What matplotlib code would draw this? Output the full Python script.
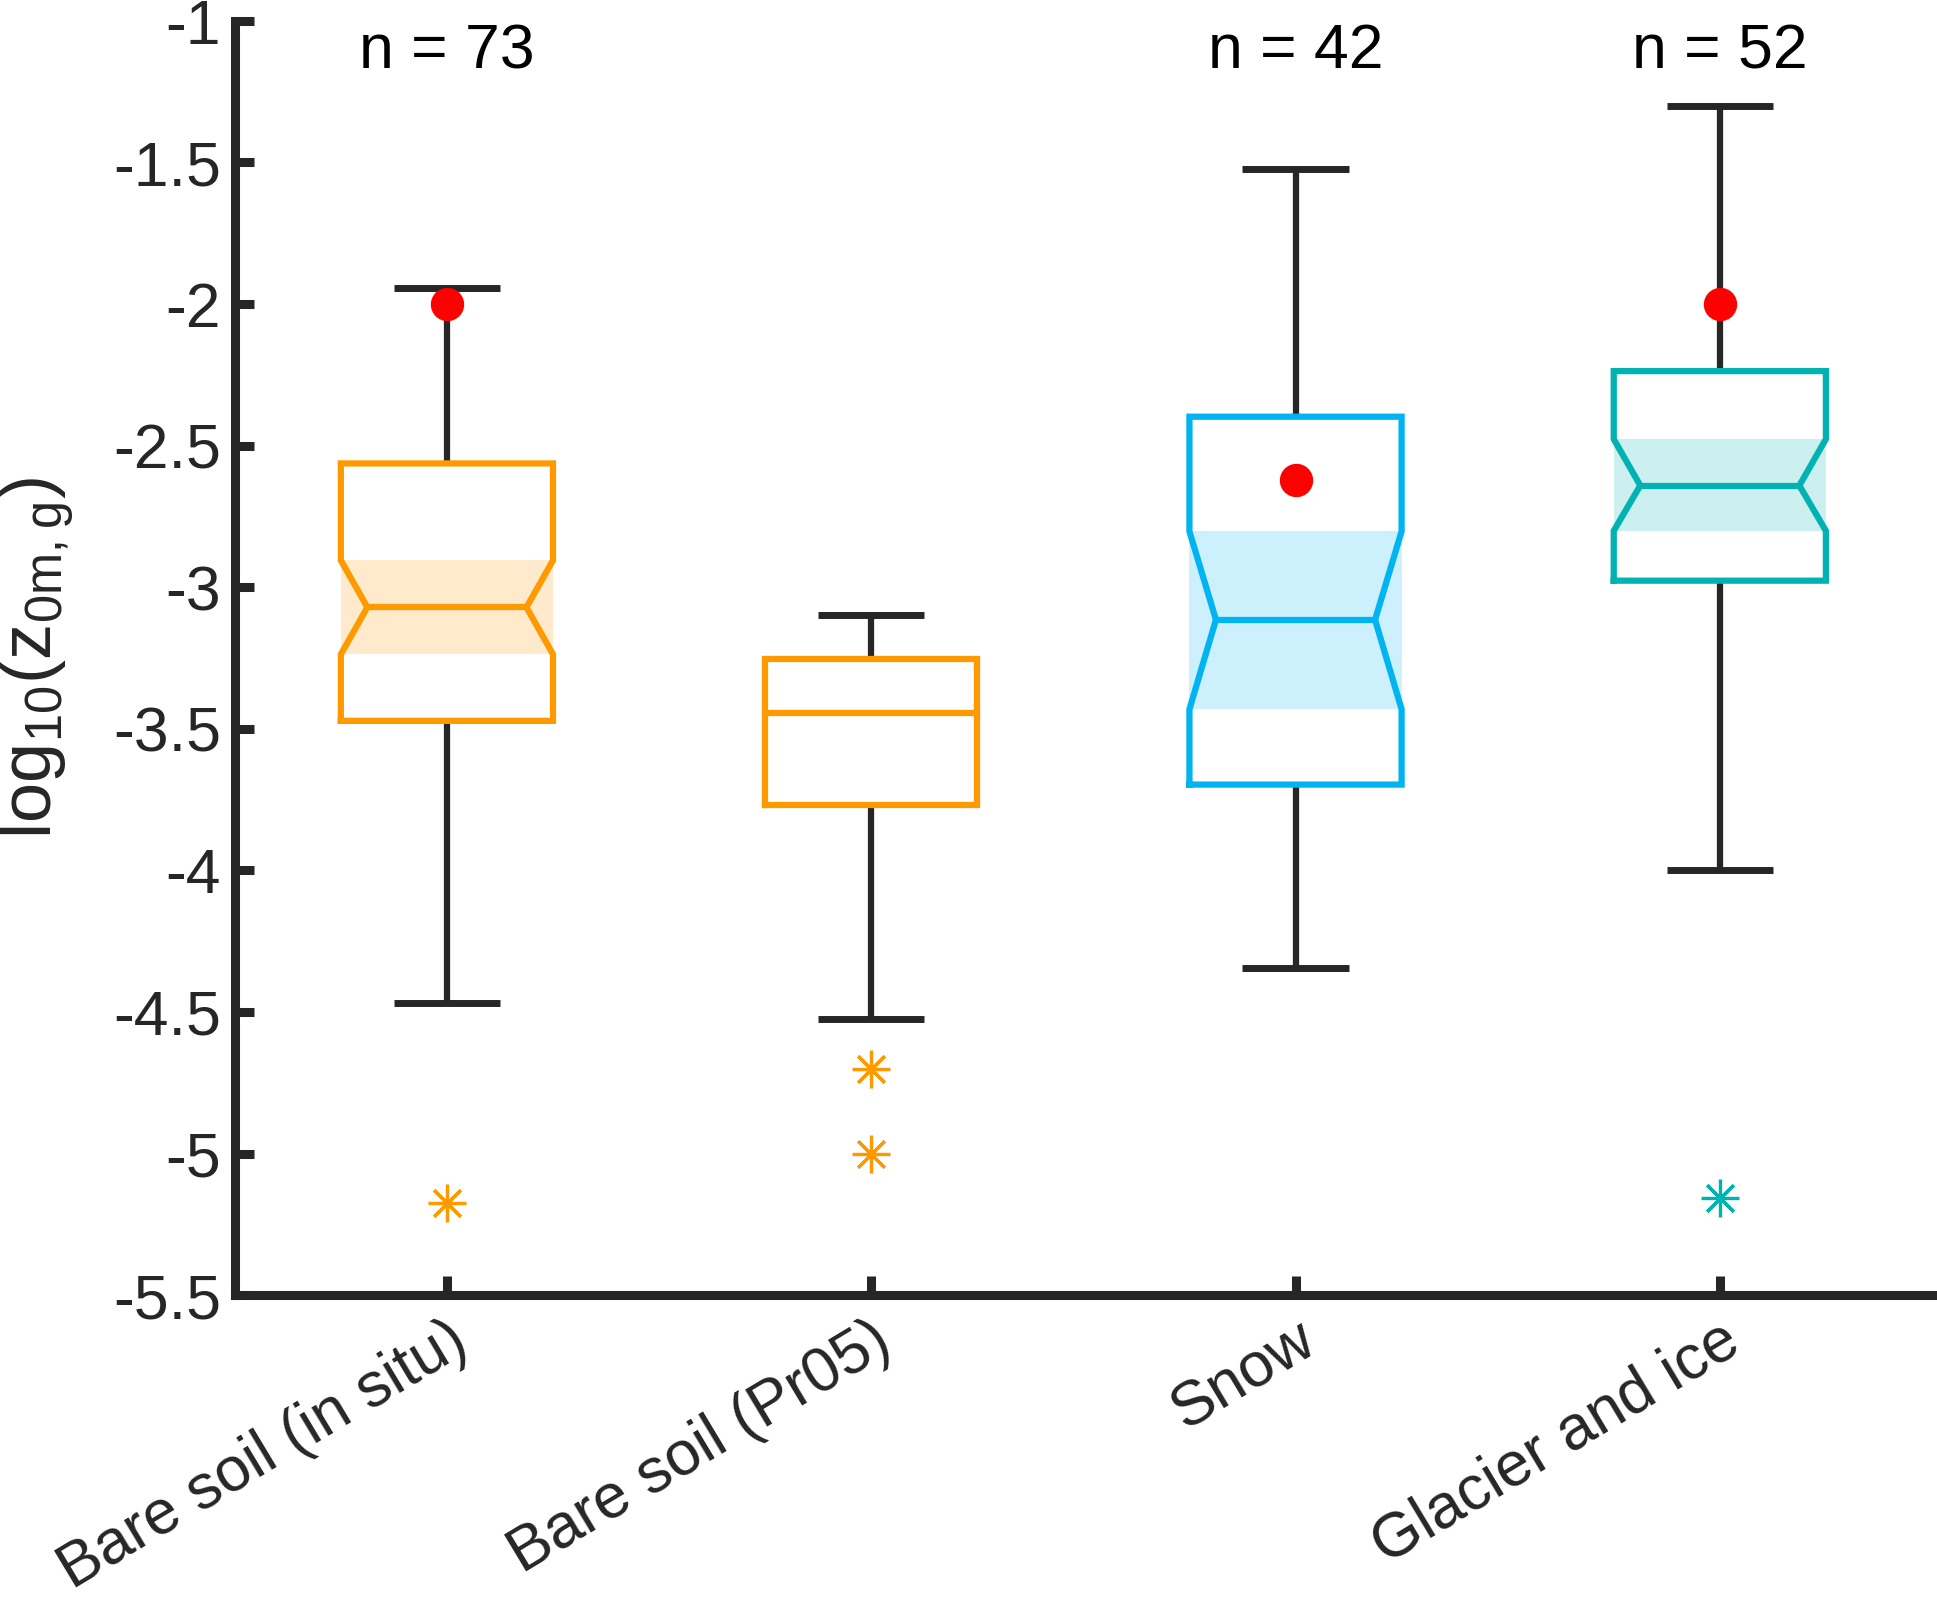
import matplotlib
matplotlib.use('Agg')
import matplotlib.pyplot as plt
import numpy as np

plt.rcParams['font.family'] = ['Liberation Sans', 'DejaVu Sans']
plt.rcParams['mathtext.fontset'] = 'custom'
plt.rcParams['mathtext.rm'] = 'Liberation Sans'

# values (log10 of z0m,g)
categories = ['Bare soil (in situ)', 'Bare soil (Pr05)', 'Snow', 'Glacier and ice']
whisker_hi = [-1.943, -3.098, -1.523, -1.302]
q3 = [-2.563, -3.252, -2.398, -2.237]
median = [-3.071, -3.445, -3.115, -2.641]
q1 = [-3.472, -3.768, -3.697, -2.977]
whisker_lo = [-4.469, -4.524, -4.346, -3.998]
notch_hi = [-2.905, None, -2.803, -2.477]
notch_lo = [-3.237, None, -3.431, -2.801]
outliers = [[-5.175], [-4.700, -5.0], [], [-5.158]]
ref_value = [-2.0, None, -2.62, -2.0]
n_text = ['n = 73', '', 'n = 42', 'n = 52']

edge_colors = ['#FF9900', '#FF9900', '#00B4F2', '#00B2B2']
dark = '#262626'

fig = plt.figure(figsize=(19.37, 15.99), dpi=100)
ax = fig.add_axes([0.1212, 0.19, 0.8762, 0.797])

half_w = 0.25
notch_w = 0.1875
cap_w = 0.125
box_lw = 4.5

for i, cat in enumerate(categories):
    x = i + 1
    c = edge_colors[i]
    # whiskers
    ax.plot([x, x], [q3[i], whisker_hi[i]], color=dark, lw=4.5, zorder=2, solid_capstyle='butt')
    ax.plot([x, x], [q1[i], whisker_lo[i]], color=dark, lw=4.5, zorder=2, solid_capstyle='butt')
    ax.plot([x - cap_w, x + cap_w], [whisker_hi[i]] * 2, color=dark, lw=5, zorder=2, solid_capstyle='butt')
    ax.plot([x - cap_w, x + cap_w], [whisker_lo[i]] * 2, color=dark, lw=5, zorder=2, solid_capstyle='butt')

    if notch_hi[i] is not None:
        ax.fill_between([x - half_w, x + half_w], notch_lo[i], notch_hi[i],
                        color=c, alpha=0.2, lw=0, zorder=1)
        bx = [x - half_w, x - half_w, x - notch_w, x - half_w, x - half_w,
              x + half_w, x + half_w, x + notch_w, x + half_w, x + half_w, x - half_w]
        by = [q1[i], notch_lo[i], median[i], notch_hi[i], q3[i],
              q3[i], notch_hi[i], median[i], notch_lo[i], q1[i], q1[i]]
        ax.plot(bx, by, color=c, lw=box_lw, zorder=3, solid_joinstyle='miter')
        ax.plot([x - notch_w, x + notch_w], [median[i]] * 2, color=c, lw=box_lw, zorder=3)
    else:
        bx = [x - half_w, x - half_w, x + half_w, x + half_w, x - half_w]
        by = [q1[i], q3[i], q3[i], q1[i], q1[i]]
        ax.plot(bx, by, color=c, lw=box_lw, zorder=3, solid_joinstyle='miter')
        ax.plot([x - half_w, x + half_w], [median[i]] * 2, color=c, lw=box_lw, zorder=3)

    if outliers[i]:
        ax.plot([x] * len(outliers[i]), outliers[i], linestyle='none', marker=(8, 2, 0),
                markersize=27, markeredgewidth=2.3, color=c, zorder=4)
    if ref_value[i] is not None:
        ax.plot(x, ref_value[i], 'o', color='red', markersize=23, zorder=5)
    if n_text[i]:
        ax.text(x, -1.11, n_text[i], ha='center', va='center', fontsize=45, color='black')

ax.set_xlim(0.5, 4.5)
ax.set_ylim(-5.5, -1)
ax.set_xticks(range(1, len(categories) + 1))
ax.set_xticklabels(categories, rotation=31, ha='right', rotation_mode='anchor', fontsize=44)
ax.set_yticks(np.arange(-5.5, -0.9, 0.5))
ax.set_yticklabels(['-5.5', '-5', '-4.5', '-4', '-3.5', '-3', '-2.5', '-2', '-1.5', '-1'])
ax.tick_params(direction='in', length=14, width=6.5, labelsize=45, colors=dark, pad=10)
ax.tick_params(axis='x', pad=11)
ax.spines['top'].set_visible(False)
ax.spines['right'].set_visible(False)
for s in ['left', 'bottom']:
    ax.spines[s].set_linewidth(6.5)
    ax.spines[s].set_color(dark)

ax.set_ylabel(r'log$_{\mathregular{10}}$(z$_{\mathregular{0m,g}}$)', fontsize=52, color=dark)
ax.yaxis.set_label_coords(-0.093, 0.5)

fig.savefig('out.png', dpi=100)
